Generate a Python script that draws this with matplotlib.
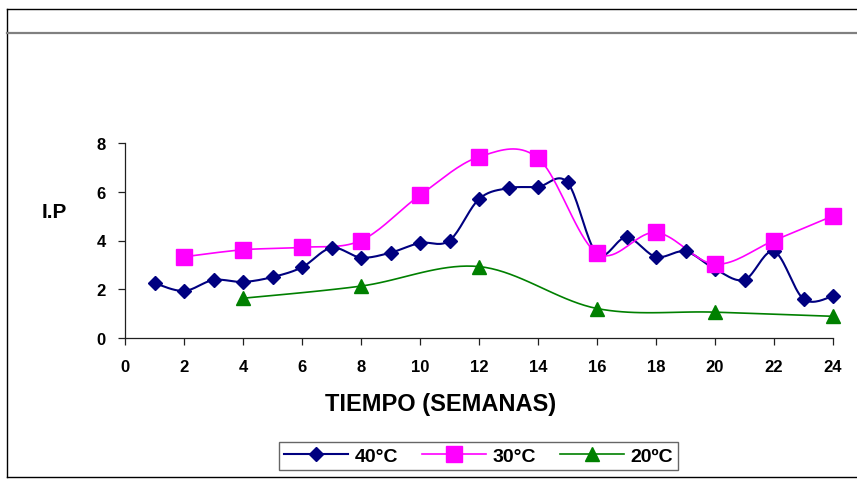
import matplotlib

matplotlib.use('Agg')
import matplotlib.pyplot as plt
import numpy as np
from matplotlib.lines import Line2D

plt.rcParams['font.family'] = ['Liberation Sans', 'DejaVu Sans']

# semanas y valores de I.P por temperatura
weeks_40 = [1, 2, 3, 4, 5, 6, 7, 8, 9, 10, 11, 12, 13, 14, 15, 16, 17, 18, 19, 20, 21, 22, 23, 24]
ip_40 = [2.25, 1.93, 2.38, 2.30, 2.50, 2.90, 3.70, 3.30, 3.50, 3.90, 4.00, 5.70,
         6.15, 6.20, 6.38, 3.45, 4.13, 3.33, 3.55, 2.83, 2.39, 3.55, 1.60, 1.71]
weeks_30 = [2, 4, 6, 8, 10, 12, 14, 16, 18, 20, 22, 24]
ip_30 = [3.33, 3.62, 3.72, 4.00, 5.86, 7.43, 7.38, 3.48, 4.33, 3.03, 4.00, 5.01]
weeks_20 = [4, 8, 12, 16, 20, 24]
ip_20 = [1.63, 2.13, 2.93, 1.21, 1.06, 0.89]

labels = ['40°C', '30°C', '20ºC']
colors = ['#000080', '#FF00FF', '#008000']
markers = ['D', 's', '^']
msizes = [7, 11, 10]
lwidths = [1.5, 1.2, 1.2]


def smooth(x, y, n=20):
    # curva tipo Catmull-Rom entre puntos, como la linea suavizada de Excel
    x = np.asarray(x, float)
    y = np.asarray(y, float)
    px = np.concatenate([[x[0]], x, [x[-1]]])
    py = np.concatenate([[y[0]], y, [y[-1]]])
    xs, ys = [], []
    t = np.linspace(0, 1, n)
    for i in range(1, len(px) - 2):
        p0, p1, p2, p3 = (np.array([px[j], py[j]]) for j in (i - 1, i, i + 1, i + 2))
        c1 = p1 + (p2 - p0) / 6
        c2 = p2 - (p3 - p1) / 6
        b = ((1 - t) ** 3)[:, None] * p1 + (3 * (1 - t) ** 2 * t)[:, None] * c1 \
            + (3 * (1 - t) * t ** 2)[:, None] * c2 + (t ** 3)[:, None] * p2
        xs.extend(b[:, 0])
        ys.extend(b[:, 1])
    return xs, ys


fig = plt.figure(figsize=(8.57, 4.81), dpi=100)
W, H = 857, 481
ax = fig.add_axes([125 / W, 1 - 339 / H, (833 - 125) / W, (339 - 144) / H])

series = [(weeks_40, ip_40), (weeks_30, ip_30), (weeks_20, ip_20)]
handles = []
for (wx, wy), lab, c, m, ms, lw in zip(series, labels, colors, markers, msizes, lwidths):
    sx, sy = smooth(wx, wy)
    ax.plot(sx, sy, color=c, lw=lw, zorder=2, clip_on=False)
    ax.plot(wx, wy, ls='none', marker=m, ms=ms, color=c, zorder=3, clip_on=False)
    handles.append(Line2D([], [], color=c, lw=lw, marker=m, ms=ms))

ax.set_xlim(0, 24)
ax.set_ylim(0, 8)
ax.set_xticks(range(0, 25, 2))
ax.set_yticks(range(0, 9, 2))
for s in ['top', 'right']:
    ax.spines[s].set_visible(False)
for s in ['left', 'bottom']:
    ax.spines[s].set_color('#202020')
    ax.spines[s].set_linewidth(0.9)
ax.tick_params(colors='black', labelsize=12, length=5, width=0.9)
ax.tick_params(axis='y', pad=9)
ax.tick_params(axis='x', pad=10)
ax.tick_params(axis='both', color='#202020')
for t in ax.get_xticklabels() + ax.get_yticklabels():
    t.set_fontweight('bold')

fig.text(42 / W, 1 - 212 / H, 'I.P', fontsize=15, fontweight='bold', ha='left', va='center')
fig.text(441 / W, 1 - 404 / H, 'TIEMPO (SEMANAS)', fontsize=17, fontweight='bold',
         ha='center', va='center')

leg = fig.legend(handles, labels, loc='center', bbox_to_anchor=(478.5 / W, 1 - 457 / H),
                 ncol=3, frameon=True, fancybox=False, edgecolor='#404040',
                 prop={'weight': 'bold', 'size': 14}, handlelength=3.3,
                 columnspacing=1.2, handletextpad=0.35, borderpad=0.25)
leg.get_frame().set_linewidth(1)

# marco exterior y linea gris superior
fig.add_artist(Line2D([7 / W, 1], [1 - 10 / H] * 2, color='black', lw=1))
fig.add_artist(Line2D([7 / W] * 2, [1 - 10 / H, 1 - 478 / H], color='black', lw=1))
fig.add_artist(Line2D([7 / W, 1], [1 - 478 / H] * 2, color='black', lw=1))
fig.add_artist(Line2D([7 / W, 1], [1 - 33.5 / H] * 2, color='#808080', lw=1.6))

fig.savefig('out.png', dpi=100)
